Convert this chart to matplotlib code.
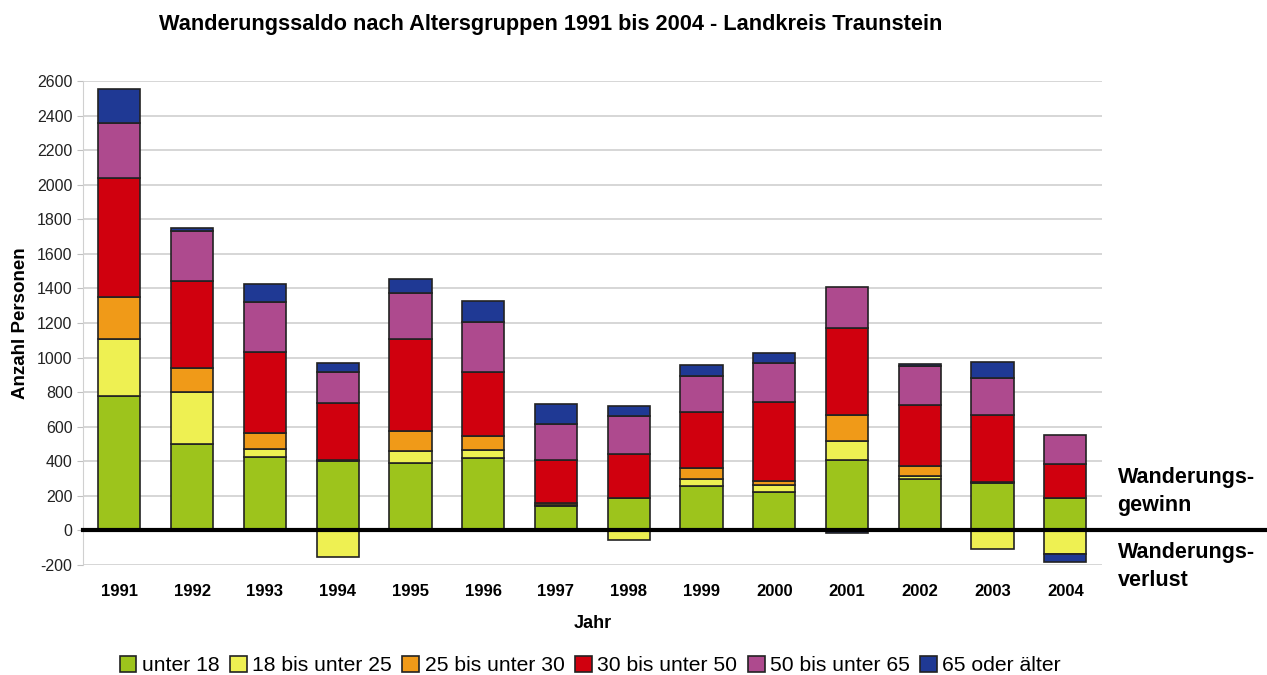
import numpy as np
import matplotlib.pyplot as plt
from matplotlib.ticker import FuncFormatter

plt.rcParams['font.family'] = ['Liberation Sans', 'DejaVu Sans']

# Wanderungssaldo nach Altersgruppen, Landkreis Traunstein
jahre = ['1991', '1992', '1993', '1994', '1995', '1996', '1997',
         '1998', '1999', '2000', '2001', '2002', '2003', '2004']

unter18 = [780, 500, 425, 400, 390, 420, 140, 185, 255, 220, 410, 295, 275, 185]
u18_25 = [325, 300, 45, -155, 70, 45, 5, -55, 40, 40, 110, 22, -105, -137]
u25_30 = [245, 140, 95, 5, 115, 80, 15, 0, 65, 25, 145, 55, 5, 0]
u30_50 = [690, 505, 465, 330, 535, 370, 245, 255, 325, 460, 505, 355, 390, 202]
u50_65 = [315, 290, 290, 180, 265, 290, 210, 220, 210, 225, 238, 222, 212, 165]
ue65 = [200, 12, 105, 55, 80, 120, 115, 60, 60, 58, -15, 12, 92, -46]

gruppen = ['unter 18', '18 bis unter 25', '25 bis unter 30',
           '30 bis unter 50', '50 bis unter 65', '65 oder älter']
werte = [unter18, u18_25, u25_30, u30_50, u50_65, ue65]
farben = ['#9dc41c', '#eef052', '#f09a18', '#d0000e', '#ae4a8e', '#1f3994']

fig = plt.figure(figsize=(12.67, 6.75), dpi=100)
ax = fig.add_axes([0.0655, 0.163, 0.804, 0.717])

x = np.arange(len(jahre))
pos = np.zeros(len(jahre))
neg = np.zeros(len(jahre))
for name, vals, col in zip(gruppen, werte, farben):
    v = np.array(vals, dtype=float)
    bottom = np.where(v >= 0, pos, neg)
    ax.bar(x, v, 0.58, bottom=bottom, color=col, edgecolor='#222222',
           linewidth=1.2, label=name, zorder=3)
    pos = pos + np.where(v >= 0, v, 0)
    neg = neg + np.where(v < 0, v, 0)

ax.set_xlim(-0.5, len(jahre) - 0.5)
ax.set_ylim(-200, 2600)
ax.set_yticks(range(-200, 2601, 200))
ax.yaxis.set_major_formatter(FuncFormatter(lambda v, p: '%d' % v))
ax.yaxis.grid(True, color='#d0d0d0', linewidth=1.2, zorder=0)
ax.set_axisbelow(True)
for s in ['top', 'right', 'bottom']:
    ax.spines[s].set_visible(False)
ax.spines['left'].set_color('#d0d0d0')
ax.tick_params(axis='y', length=4, color='#c0c0c0', labelsize=11.5, labelcolor='#222222')
ax.tick_params(axis='x', length=0, pad=14)
ax.set_xticks(x)
ax.set_xticklabels(jahre, fontsize=12, fontweight='bold')

# dicke Nulllinie bis zum rechten Bildrand
ax.axhline(0, xmin=0, xmax=(1267 - 83) / 1019, color='black', linewidth=3,
           clip_on=False, zorder=5)

ax.set_ylabel('Anzahl Personen', fontsize=13.5, fontweight='bold', labelpad=6)
ax.set_xlabel('Jahr', fontsize=13, fontweight='bold', labelpad=11)

fig.text(0.435, 0.963, 'Wanderungssaldo nach Altersgruppen 1991 bis 2004 - Landkreis Traunstein',
         ha='center', va='center', fontsize=15.7, fontweight='bold')

fig.text(0.882, 0.272, 'Wanderungs-\ngewinn', ha='left', va='center',
         fontsize=15.5, fontweight='bold', linespacing=1.45)
fig.text(0.882, 0.161, 'Wanderungs-\nverlust', ha='left', va='center',
         fontsize=15.5, fontweight='bold', linespacing=1.45)

ax.legend(loc='center', bbox_to_anchor=(0.498, -0.208), ncol=6, frameon=False,
          fontsize=15.2, handlelength=0.8, handleheight=0.8, handletextpad=0.25,
          columnspacing=0.5, borderaxespad=0)

fig.savefig('out.png', dpi=100)
